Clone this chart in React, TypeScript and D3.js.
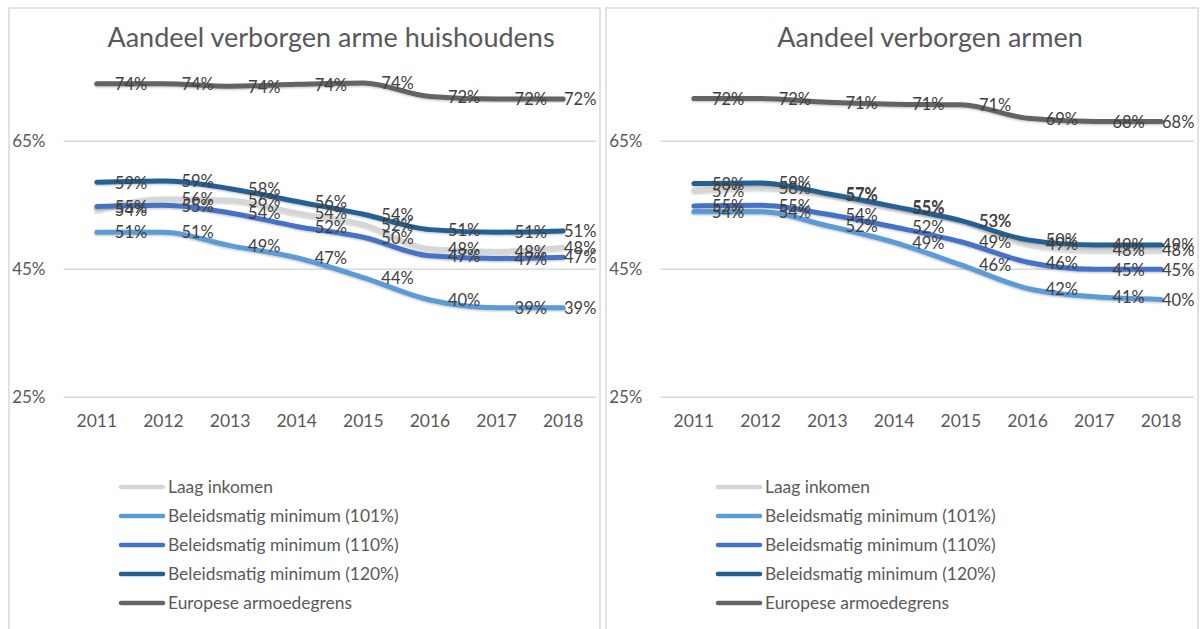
import React from 'react'
import * as d3 from 'd3'

const YEARS = ['2011', '2012', '2013', '2014', '2015', '2016', '2017', '2018']
const SERIES_NAMES = [
  'Laag inkomen',
  'Beleidsmatig minimum (101%)',
  'Beleidsmatig minimum (110%)',
  'Beleidsmatig minimum (120%)',
  'Europese armoedegrens',
]
const COLORS = ['#d6d6d6', '#5b9bd5', '#4472c4', '#255e91', '#646464']
const Y_TICKS = [25, 45, 65]

// Aandeel verborgen arme huishoudens
const hhLaag = [54.3, 56.0, 55.8, 53.8, 52.0, 48.2, 47.8, 48.4]
const hh101 = [50.8, 50.8, 48.7, 46.8, 43.7, 40.2, 39.0, 39.0]
const hh110 = [54.8, 55.0, 53.8, 51.7, 50.0, 47.1, 46.7, 46.9]
const hh120 = [58.6, 58.8, 57.6, 55.6, 53.6, 51.2, 50.8, 51.0]
const hhEuropa = [74.0, 74.0, 73.6, 73.9, 74.1, 72.0, 71.6, 71.6]

// Aandeel verborgen armen
const persLaag = [57.3, 57.8, 56.7, 54.6, 52.6, 49.0, 48.0, 48.0]
const pers101 = [54.0, 54.0, 51.8, 49.2, 45.7, 42.0, 40.7, 40.3]
const pers110 = [54.9, 55.0, 53.6, 51.6, 49.3, 46.1, 45.0, 45.0]
const pers120 = [58.4, 58.5, 56.8, 54.8, 52.6, 49.6, 48.8, 48.8]
const persEuropa = [71.7, 71.7, 71.1, 70.8, 70.7, 68.6, 68.1, 68.1]

const FONT = 'Lato, "Open Sans", sans-serif'
const TEXT = '#595959'
const LABEL = '#404040'

type PanelProps = {
  x0: number
  width: number
  title: string
  titleX: number
  series: number[][]
}

function Panel({ x0, width, title, titleX, series }: PanelProps) {
  const plotLeft = x0 + 54.5
  const plotRight = x0 + width - 3.5
  const x = d3.scalePoint<string>().domain(YEARS).range([plotLeft, plotRight]).padding(0.5)
  const y = d3.scaleLinear().domain([25, 85]).range([397.3, 13.3])
  const line = d3.line<number>()
    .x((_, i) => x(YEARS[i]) as number)
    .y(v => y(v))
    .curve(d3.curveMonotoneX)
  const labelW = 33

  return (
    <g>
      <rect x={x0} y={8} width={width} height={640} fill="#fff" stroke="#d9d9d9" strokeWidth={1.5} />
      <text x={titleX} y={47} textAnchor="middle" fontFamily={FONT} fontSize={27} fill={TEXT}>{title}</text>

      {Y_TICKS.map(t => (
        <g key={t}>
          <line x1={plotLeft} x2={plotRight} y1={y(t)} y2={y(t)} stroke="#d9d9d9" strokeWidth={1.5} />
          <text x={plotLeft - 18} y={y(t)} dy="0.35em" textAnchor="end" fontFamily={FONT} fontSize={17} fill={TEXT}>{t}%</text>
        </g>
      ))}

      {YEARS.map(yr => (
        <text key={yr} x={x(yr)} y={427} textAnchor="middle" fontFamily={FONT} fontSize={17.5} fill={TEXT}>{yr}</text>
      ))}

      {series.map((vals, si) => (
        <path key={si} d={line(vals) || ''} fill="none" stroke={COLORS[si]} strokeWidth={5}
          strokeLinecap="round" strokeLinejoin="round" filter="url(#shadow)" />
      ))}

      {series.map((vals, si) => (
        <g key={si}>
          {vals.map((v, i) => {
            const px = x(YEARS[i]) as number
            const lx = Math.min(px + 18, x0 + width - 3 - labelW)
            return (
              <text key={i} x={lx} y={y(v)} dy="0.38em" fontFamily={FONT} fontSize={16.5} fill={LABEL}>
                {Math.round(v)}%
              </text>
            )
          })}
        </g>
      ))}

      {SERIES_NAMES.map((name, i) => {
        const ly = 487 + i * 29
        return (
          <g key={name}>
            <line x1={x0 + 112} x2={x0 + 154} y1={ly} y2={ly} stroke={COLORS[i]} strokeWidth={4.5} strokeLinecap="round" />
            <text x={x0 + 159} y={ly} dy="0.35em" fontFamily={FONT} fontSize={17.4} fill={TEXT}>{name}</text>
          </g>
        )
      })}
    </g>
  )
}

export default function App() {
  return (
    <svg width={1200} height={629} style={{ position: 'absolute', left: 0, top: 0, background: '#fff' }}>
      <defs>
        <filter id="shadow" x="-5%" y="-20%" width="110%" height="140%">
          <feDropShadow dx="0" dy="1" stdDeviation="0.8" floodColor="#000" floodOpacity="0.25" />
        </filter>
      </defs>
      <Panel x0={9} width={591} title="Aandeel verborgen arme huishoudens" titleX={331}
        series={[hhLaag, hh101, hh110, hh120, hhEuropa]} />
      <Panel x0={606} width={592} title="Aandeel verborgen armen" titleX={930}
        series={[persLaag, pers101, pers110, pers120, persEuropa]} />
    </svg>
  )
}
